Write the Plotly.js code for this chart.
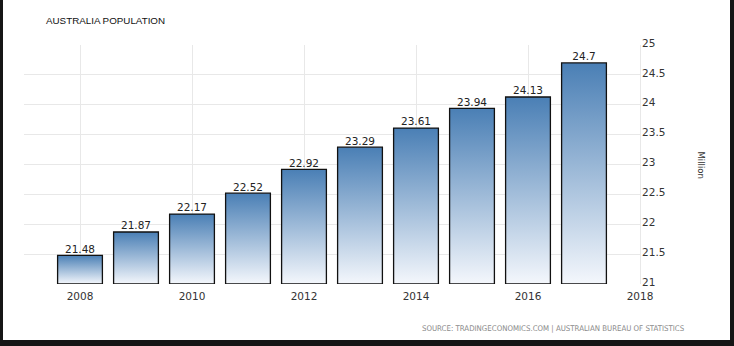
<!DOCTYPE html>
<html>
<head>
<meta charset="utf-8">
<script src="https://cdn.plot.ly/plotly-3.0.1.min.js"></script>
<style>
  html, body { margin: 0; padding: 0; background: #151515; width: 734px; height: 346px; overflow: hidden; }
  #chart { position: absolute; left: 3px; top: 0px; width: 727px; height: 340px; background: #fff; }
</style>
</head>
<body>
<div id="chart"></div>
<script>
const years = [2008, 2009, 2010, 2011, 2012, 2013, 2014, 2015, 2016, 2017];
const population = [21.48, 21.87, 22.17, 22.52, 22.92, 23.29, 23.61, 23.94, 24.13, 24.7];
const xTicks = [2008, 2010, 2012, 2014, 2016, 2018];
const yTicks = [21, 21.5, 22, 22.5, 23, 23.5, 24, 24.5, 25];
const yTickLabels = ['21', '21.5', '22', '22.5', '23', '23.5', '24', '24.5', '25'];

const baseValue = 21;
const halfWidth = 0.4;

const traces = [];
years.forEach((yr, i) => {
  const v = population[i];
  traces.push({
    type: 'scatter',
    mode: 'lines',
    x: [yr - halfWidth, yr - halfWidth, yr + halfWidth, yr + halfWidth, yr - halfWidth],
    y: [baseValue, v, v, baseValue, baseValue],
    fill: 'toself',
    fillgradient: {
      type: 'vertical',
      colorscale: [[0, '#f4f7fc'], [1, '#4a7fb5']]
    },
    line: { color: '#111', width: 1.3 },
    hoverinfo: 'skip',
    showlegend: false
  });
});

traces.push({
  type: 'scatter',
  mode: 'text',
  x: years,
  y: population,
  text: population.map(v => String(v)),
  textposition: 'top center',
  textfont: { family: 'DejaVu Sans', size: 10.5, color: '#222' },
  hoverinfo: 'skip',
  showlegend: false
});

const layout = {
  width: 727,
  height: 340,
  margin: { l: 21, r: 90, t: 45, b: 56 },
  paper_bgcolor: '#ffffff',
  plot_bgcolor: '#ffffff',
  showlegend: false,
  font: { family: 'DejaVu Sans', size: 10.5, color: '#333' },
  xaxis: {
    range: [2007, 2018],
    tickvals: xTicks,
    ticktext: xTicks.map(String),
    showgrid: true,
    gridcolor: '#e8e8e8',
    gridwidth: 1,
    zeroline: false,
    showline: false,
    ticks: '',
    ticklabelstandoff: 4,
    tickfont: { family: 'DejaVu Sans', size: 10.5, color: '#333' },
    fixedrange: true
  },
  yaxis: {
    side: 'right',
    range: [21, 25],
    tickvals: yTicks,
    ticktext: yTickLabels,
    showgrid: true,
    gridcolor: '#e8e8e8',
    gridwidth: 1,
    zeroline: false,
    showline: true,
    linecolor: '#e8e8e8',
    ticks: '',
    ticklabelshift: -2,
    ticklabelstandoff: -1,
    tickfont: { family: 'DejaVu Sans', size: 10.5, color: '#333' },
    fixedrange: true
  },
  annotations: [
    {
      text: 'AUSTRALIA POPULATION',
      xref: 'paper', yref: 'paper',
      x: -0.0, y: 1,
      xanchor: 'left', yanchor: 'middle',
      xshift: 20, yshift: 25,
      showarrow: false,
      font: { family: 'Liberation Sans', size: 9.8, color: '#111' }
    },
    {
      text: 'Million',
      xref: 'paper', yref: 'paper',
      x: 1, y: 0.5,
      xanchor: 'center', yanchor: 'middle',
      xshift: 61,
      textangle: 90,
      showarrow: false,
      font: { family: 'DejaVu Sans', size: 8.5, color: '#333' }
    },
    {
      text: 'SOURCE: TRADINGECONOMICS.COM | AUSTRALIAN BUREAU OF STATISTICS',
      xref: 'paper', yref: 'paper',
      x: 1, y: 0,
      xanchor: 'right', yanchor: 'middle',
      xshift: 47, yshift: -44,
      showarrow: false,
      font: { family: 'DejaVu Sans Condensed, DejaVu Sans', size: 7.8, color: '#8a8a8a' }
    }
  ]
};

Plotly.newPlot('chart', traces, layout, { displayModeBar: false, staticPlot: true });
</script>
</body>
</html>
